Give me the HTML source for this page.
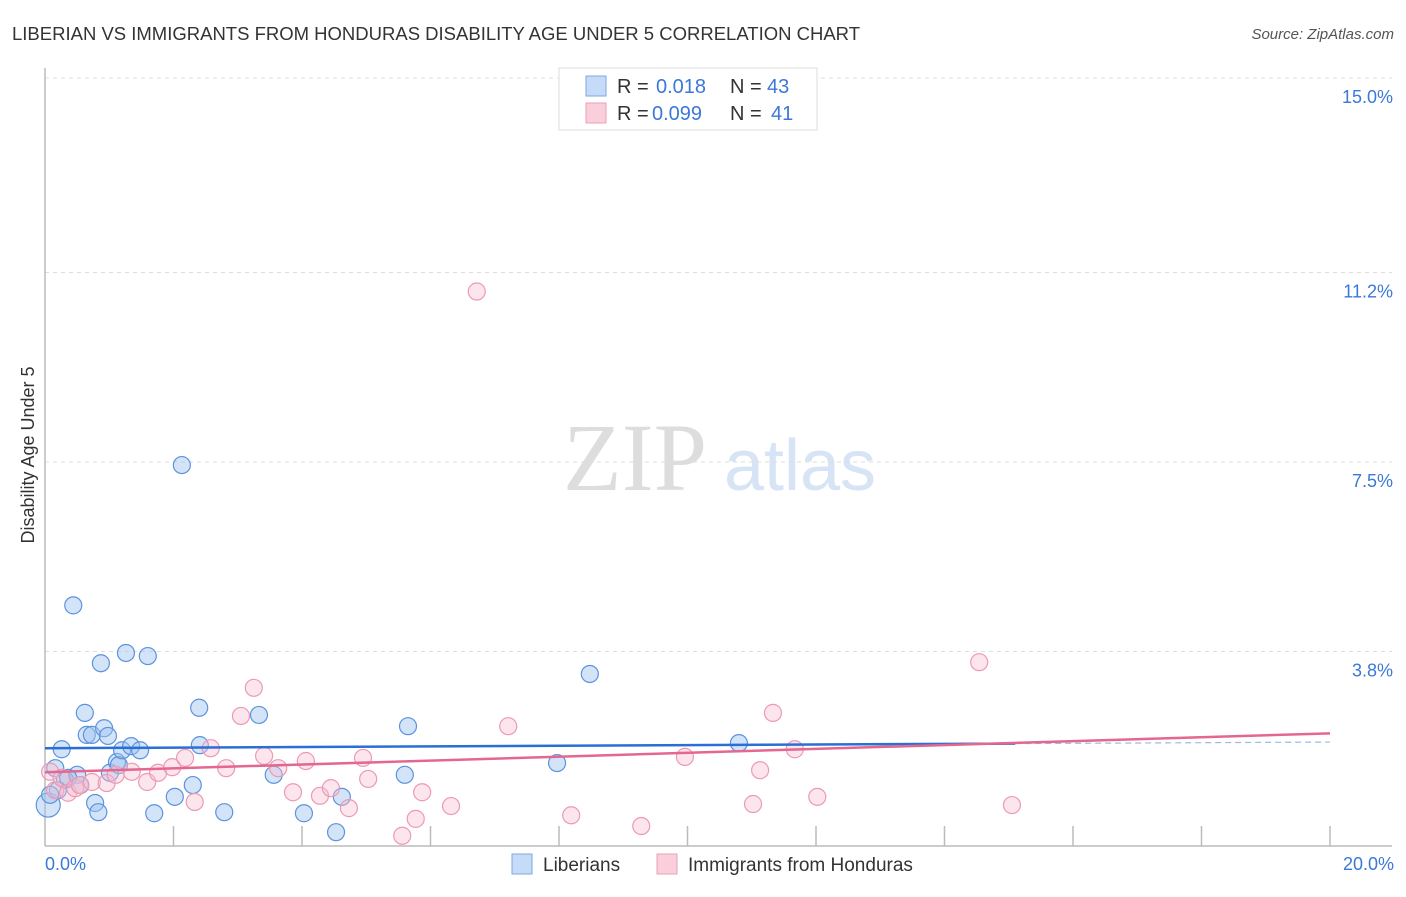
<!DOCTYPE html>
<html><head><meta charset="utf-8"><style>
body{margin:0;background:#fff;font-family:"Liberation Sans",sans-serif;}
</style></head><body>
<svg width="1406" height="892" xmlns="http://www.w3.org/2000/svg" font-family="Liberation Sans, sans-serif">
<text x="12" y="40" font-size="18" fill="#333" textLength="848" lengthAdjust="spacingAndGlyphs">LIBERIAN VS IMMIGRANTS FROM HONDURAS DISABILITY AGE UNDER 5 CORRELATION CHART</text>
<text x="1394" y="39" font-size="15" fill="#555" font-style="italic" text-anchor="end">Source: ZipAtlas.com</text>
<g>
<text x="635" y="490" font-size="96" fill="#ddd" font-family="Liberation Serif, serif" text-anchor="middle">ZIP</text>
<text x="800" y="490" font-size="72" fill="#d6e4f5" text-anchor="middle">atlas</text>
</g>
<g id="grid"></g>
<g id="axes"></g>
<g id="pts"></g>
<g id="lines"></g>
<text x="34" y="455" font-size="18" fill="#333" transform="rotate(-90 34 455)" text-anchor="middle">Disability Age Under 5</text>
<text x="45" y="870" font-size="18" fill="#3b78d8">0.0%</text>
<text x="1394" y="870" font-size="18" fill="#3b78d8" text-anchor="end">20.0%</text>
<g>
<rect x="559" y="68" width="258" height="62" fill="#fff" stroke="#ddd"/>
<rect x="586" y="76" width="20" height="20" fill="#c5dbf7" stroke="#7aa8e6"/>
<text x="617" y="93" font-size="20" fill="#333">R =</text>
<text x="656" y="93" font-size="20" fill="#3b78d8">0.018</text>
<text x="730" y="93" font-size="20" fill="#333">N =</text>
<text x="767" y="93" font-size="20" fill="#3b78d8">43</text>
<rect x="586" y="103" width="20" height="20" fill="#f9cfdc" stroke="#ef9fb8"/>
<text x="617" y="120" font-size="20" fill="#333">R =</text>
<text x="652" y="120" font-size="20" fill="#3b78d8">0.099</text>
<text x="730" y="120" font-size="20" fill="#333">N =</text>
<text x="771" y="120" font-size="20" fill="#3b78d8">41</text>
</g>
<g>
<rect x="512" y="854" width="20" height="20" fill="#c5dbf7" stroke="#7aa8e6"/>
<text x="543" y="871" font-size="19" fill="#333">Liberians</text>
<rect x="657" y="854" width="20" height="20" fill="#f9cfdc" stroke="#ef9fb8"/>
<text x="688" y="871" font-size="19" fill="#333">Immigrants from Honduras</text>
</g>
</svg>
<script>
const yTicks=[15.0,11.2,7.5,3.8];
const yTickLabels=["15.0%","11.2%","7.5%","3.8%"];
const blueX=[0.05,0.16,0.26,0.31,0.44,0.5,0.62,0.65,0.73,0.78,0.83,0.87,0.92,0.98,1.01,1.12,1.15,1.2,1.26,1.34,1.48,1.6,1.7,2.02,2.13,2.3,2.4,2.41,2.79,3.33,3.56,4.03,4.53,4.62,5.6,5.65,7.97,8.48,10.8,0.36,0.55,0.2,0.08];
const blueY=[0.8,1.52,1.89,1.29,4.7,1.39,2.6,2.17,2.17,0.84,0.66,3.57,2.3,2.15,1.43,1.64,1.58,1.87,3.77,1.95,1.87,3.71,0.64,0.96,7.44,1.19,2.7,1.97,0.66,2.56,1.39,0.64,0.27,0.96,1.39,2.34,1.62,3.36,2.01,1.33,1.19,1.09,1.0];
const pinkX=[0.08,0.16,0.26,0.36,0.47,0.54,0.73,0.96,1.1,1.35,1.59,1.76,1.98,2.18,2.33,2.58,2.82,3.05,3.25,3.41,3.63,3.86,4.06,4.28,4.45,4.73,4.95,5.03,5.56,5.77,5.87,6.32,6.72,7.21,8.19,9.28,9.96,11.02,11.13,11.33,11.67,12.02,14.54,15.05];
const pinkY=[1.45,1.09,1.33,1.04,1.13,1.19,1.25,1.23,1.39,1.45,1.25,1.43,1.54,1.72,0.86,1.91,1.52,2.54,3.09,1.76,1.52,1.05,1.66,0.98,1.13,0.74,1.72,1.31,0.2,0.53,1.05,0.78,10.83,2.34,0.6,0.39,1.74,0.82,1.48,2.6,1.89,0.96,3.59,0.8];
const blueTrend=[1.91,2.03];
const pinkTrend=[1.44,2.2];
const X0=45,X1=1330,Y0=846,PX=(X1-X0)/20,PY=51.2;
const sx=v=>X0+v*PX, sy=v=>Y0-v*PY;
const NS="http://www.w3.org/2000/svg";
function mk(t,a,p){const e=document.createElementNS(NS,t);for(const k in a)e.setAttribute(k,a[k]);p.appendChild(e);return e;}
const grid=document.getElementById('grid'),axes=document.getElementById('axes'),pts=document.getElementById('pts'),lines=document.getElementById('lines');
yTicks.forEach((t,i)=>{
 const l=mk('line',{x1:X0,x2:1392,y1:sy(t),y2:sy(t),stroke:'#ddd','stroke-dasharray':'4,4'},grid);
 
 
 const tx=mk('text',{x:1393,y:sy(t)+25,'font-size':18,fill:'#3b78d8','text-anchor':'end'},grid);
 tx.textContent=yTickLabels[i];
 
 
});
const ya=mk('line',{x1:X0,x2:X0,y1:68,y2:Y0,stroke:'#bbb','stroke-width':1.5},axes);


const xa=mk('line',{x1:X0,x2:1392,y1:Y0,y2:Y0,stroke:'#bbb','stroke-width':1.5},axes);


for(let i=1;i<=10;i++){const t=mk('line',{x1:sx(i*2),x2:sx(i*2),y1:826,y2:Y0,stroke:'#bbb','stroke-width':1.5},axes);
 
 }
blueX.forEach((v,i)=>{const c=mk('circle',{cx:sx(v),cy:sy(blueY[i]),r:i==0?12:8.5,fill:'rgba(160,196,240,0.45)',stroke:'#5b93dd','stroke-width':1.2},pts);
 
 });
pinkX.forEach((v,i)=>{const c=mk('circle',{cx:sx(v),cy:sy(pinkY[i]),r:8.5,fill:'rgba(248,190,208,0.4)',stroke:'#ec9ab4','stroke-width':1.2},pts);
 
 });
const bt=mk('line',{x1:sx(0),x2:sx(15.1),y1:sy(blueTrend[0]),y2:sy(blueTrend[0]+(blueTrend[1]-blueTrend[0])*15.1/20),stroke:'#2a6fd6','stroke-width':2.5},lines);


const bd=mk('line',{x1:sx(15.1),x2:sx(20),y1:sy(blueTrend[0]+(blueTrend[1]-blueTrend[0])*15.1/20),y2:sy(blueTrend[1]),stroke:'#9bb8e6','stroke-width':1.2,'stroke-dasharray':'6,4'},lines);


const pt=mk('line',{x1:sx(0),x2:sx(20),y1:sy(pinkTrend[0]),y2:sy(pinkTrend[1]),stroke:'#e4678f','stroke-width':2.5},lines);


</script>
</body></html>
